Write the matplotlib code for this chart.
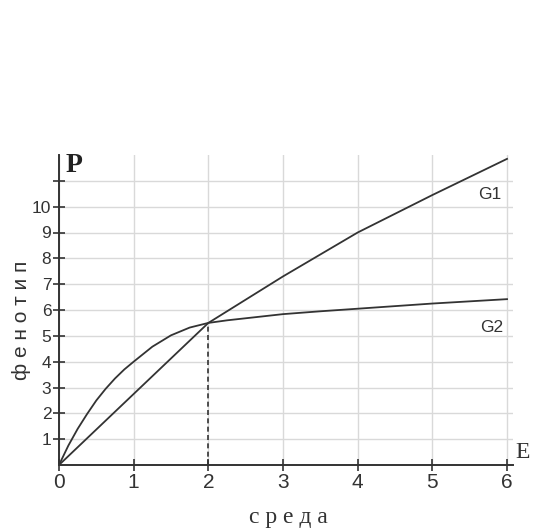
import numpy as np
from matplotlib import pyplot as plt

# values
env_g1 = [0, 2, 3, 4, 5, 6]
pheno_g1 = [0, 5.5, 7.3, 9.0, 10.45, 11.85]

env_g2 = [0, 0.125, 0.25, 0.375, 0.5, 0.625, 0.75, 0.875, 1.0, 1.25, 1.5, 1.75,
          2.0, 2.25, 2.5, 3, 3.5, 4, 5, 6]
pheno_g2 = [0, 0.75, 1.4, 1.97, 2.5, 2.95, 3.35, 3.7, 4.0, 4.58, 5.02, 5.32,
            5.5, 5.6, 5.68, 5.84, 5.95, 6.05, 6.25, 6.42]

x_ticks = [0, 1, 2, 3, 4, 5, 6]
y_ticks = [1, 2, 3, 4, 5, 6, 7, 8, 9, 10, 11]
y_labels = ['1', '2', '3', '4', '5', '6', '7', '8', '9', '10', '']
cross_x = 2
cross_y = 5.5

line_col = '#333333'
grid_col = '#d9d9d9'

fig = plt.figure(figsize=(5.35, 5.30), dpi=100)
ax = fig.add_axes([59 / 535, 65 / 530, 454 / 535, 310 / 530])

ax.plot(env_g1, pheno_g1, color=line_col, lw=1.3)
ax.plot(env_g2, pheno_g2, color=line_col, lw=1.3)
ax.plot([cross_x, cross_x], [0, cross_y], color=line_col, lw=1.2, linestyle=(0, (3, 2)))

ax.set_xlim(0, 6.08)
ax.set_ylim(0, 12.0)
ax.set_xticks(x_ticks)
ax.set_yticks(y_ticks)
ax.set_yticklabels(y_labels)
ax.grid(True, color=grid_col, lw=1.0)
ax.set_axisbelow(True)

for s in ['top', 'right']:
    ax.spines[s].set_visible(False)
for s in ['left', 'bottom']:
    ax.spines[s].set_color(line_col)
    ax.spines[s].set_linewidth(1.4)

ax.tick_params(axis='x', direction='inout', length=9, width=1.2, color=line_col,
               labelsize=15, labelcolor='#333333', pad=1)
ax.tick_params(axis='y', direction='inout', length=9, width=1.2, color=line_col,
               labelsize=12.5, labelcolor='#333333', pad=1)
for lbl in ax.get_xticklabels() + ax.get_yticklabels():
    lbl.set_family('Liberation Sans')

ax.text(5.93, 10.3, 'G1', fontsize=12.5, family='Liberation Sans', color='#333333',
        ha='right', va='baseline')
ax.text(5.95, 5.15, 'G2', fontsize=12.5, family='Liberation Sans', color='#333333',
        ha='right', va='baseline')

fig.text(66 / 535, 1 - 166 / 530, 'P', fontsize=20, fontweight='bold', family='Liberation Serif',
         color='#222222', va='center', ha='left')
fig.text(515 / 535, 1 - 452 / 530, 'E', fontsize=17, family='Liberation Serif',
         color='#333333', va='center', ha='left')
fig.text(22 / 535, 1 - 320 / 530, 'ф е н о т и п', fontsize=15, family='Liberation Sans',
         color='#333333', rotation=90, va='center', ha='center')
fig.text(288 / 535, 1 - 518 / 530, 'с р е д а', fontsize=17, family='Liberation Serif',
         color='#333333', va='center', ha='center')

fig.savefig('out.png', dpi=100, facecolor='white')
